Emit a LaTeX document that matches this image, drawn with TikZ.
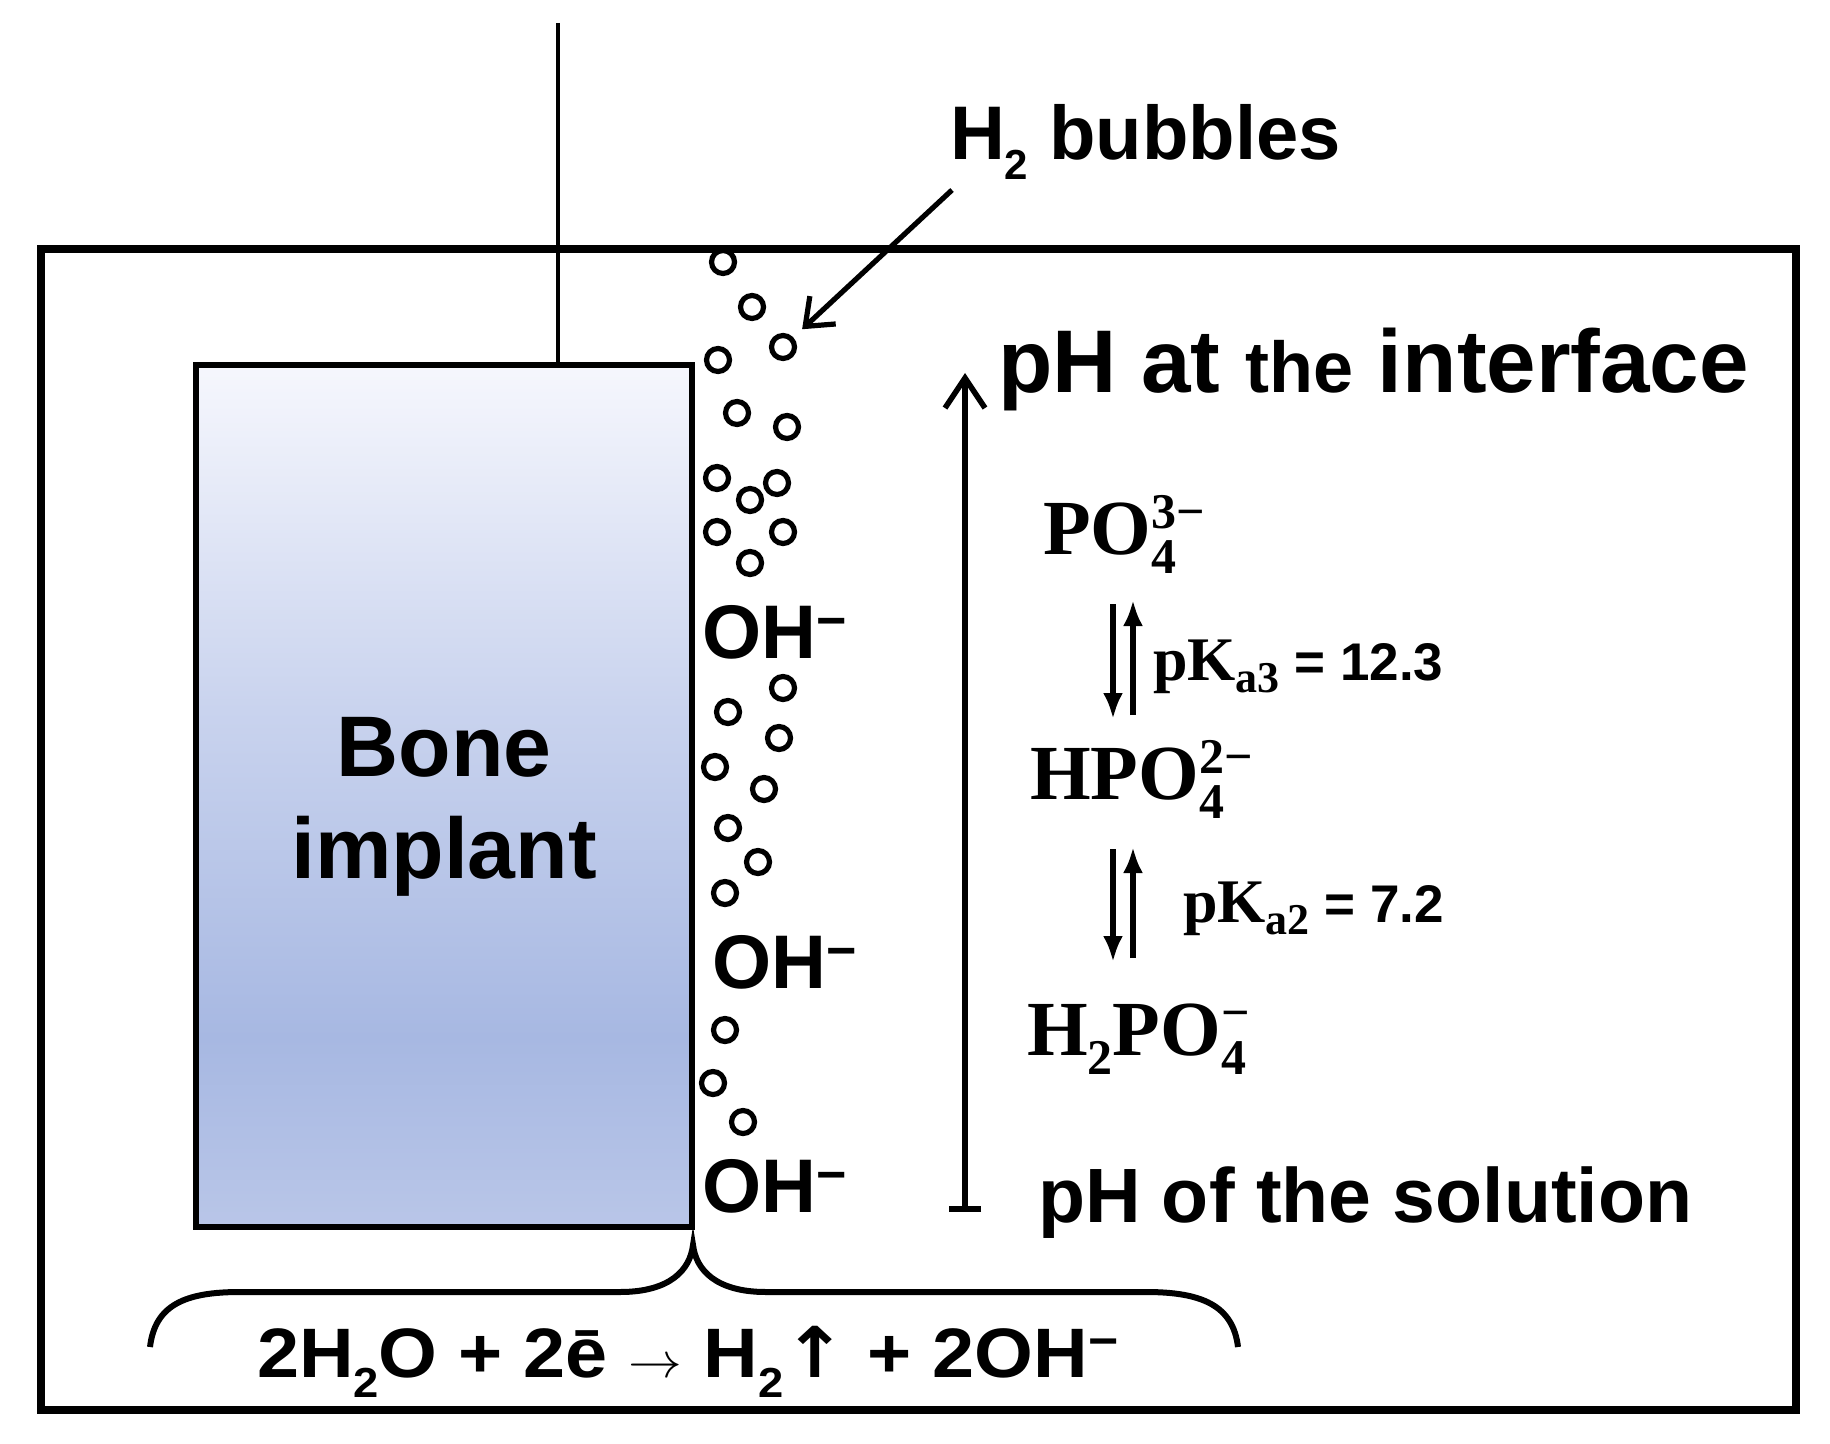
\documentclass[tikz,border=0pt]{standalone}
\usepackage{fontspec}
\setmainfont{Liberation Sans}
\newfontfamily\chemfont{Liberation Serif}
\newfontfamily\symfont{DejaVu Sans}
\usetikzlibrary{arrows.meta}
\newcommand\myfs[1]{\fontsize{#1}{#1}\selectfont}
\newcommand\chemion[3]{#1\rlap{\raisebox{13pt}{\myfs{25}#3}}\raisebox{-9.5pt}{\myfs{25}#2}}
\definecolor{implTop}{HTML}{F6F7FD}
\definecolor{implMid}{HTML}{C9D3EE}
\definecolor{implBlue}{HTML}{A7B8E2}
\definecolor{implBot}{HTML}{B9C6E8}
\pgfdeclareverticalshading{implantshade}{100bp}{color(0bp)=(implBot); color(25bp)=(implBot); color(36bp)=(implBlue); color(55bp)=(implMid); color(75bp)=(implTop); color(100bp)=(implTop)}
\begin{document}
\begin{tikzpicture}[x=0.5pt,y=-0.5pt,
  lbl/.style={anchor=base west, inner sep=0pt, outer sep=0pt},
  bubble/.style={circle, draw, line width=2.6pt, inner sep=0pt, minimum size=11.5pt},
  eqarr/.style={line width=2.6pt, -{Latex[length=13pt,width=10pt]}},
  barbarrow/.style={line width=2.6pt, -{Straight Barb[length=12pt,width=19pt]}},
  chem/.style={lbl, font=\chemfont\bfseries\myfs{39}},
  ohlbl/.style={lbl, font=\bfseries\myfs{38}},
]
\useasboundingbox (0,0) rectangle (1830,1444);
\fill[white] (0,0) rectangle (1830,1444);

% container
\draw[line width=3.8pt] (41,249) rectangle (1796,1410);

% implant
\node[draw, line width=3.2pt, shading=implantshade, minimum width=248pt, minimum height=431pt,
      anchor=north west, inner sep=0pt, outer sep=0pt] (implant) at (196,365) {};
\node[anchor=base, inner sep=0pt, font=\bfseries\myfs{43}] (bone) at (444,776) {Bone};
\node[anchor=base, inner sep=0pt, font=\bfseries\myfs{43}] (implanttxt) at (444,878) {implant};

% wire
\coordinate (wiretop) at (558,23);
\draw[line width=2.4pt] (wiretop) -- (wiretop |- implant.north);

% bubbles
\foreach \i/\x/\y in {1/723/262, 2/752/307, 3/783/347, 4/718/360, 5/737/413, 6/787/427,
  7/717/478, 8/750/500, 9/777/483, 10/717/532, 11/783/532, 12/750/563,
  13/783/688, 14/728/712, 15/779/738, 16/715/767, 17/764/789, 18/728/828,
  19/758/862, 20/725/893, 21/725/1030, 22/713/1083, 23/743/1122}
  \node[bubble] (b\i) at (\x,\y) {};

% OH- labels
\node[ohlbl] (oh1) at (702,658) {OH\raisebox{10pt}{\myfs{26}−}};
\node[ohlbl] (oh2) at (712,988) {OH\raisebox{10pt}{\myfs{26}−}};
\node[ohlbl] (oh3) at (702,1212) {OH\raisebox{10pt}{\myfs{26}−}};

% H2 bubbles
\node[lbl, font=\bfseries\myfs{38}] (h2txt) at (950,160) {H\raisebox{-10pt}{\myfs{21}2} bubbles};
\coordinate (h2tail) at (952,190);
\draw[barbarrow, shorten >=6pt] (h2tail) -- (b3);

% pH scale
\coordinate (phlow) at (965,1212);
\coordinate (phhigh) at (965,373);
\draw[line width=2.8pt, {Bar[width=16pt]}-{Straight Barb[length=15pt,width=20pt]}] (phlow) -- (phhigh);
\node[lbl, font=\bfseries\myfs{44.5}] (phint) at (998,393) {pH at {\myfs{36}the} interface};
\node[lbl, font=\bfseries\myfs{38.5}] (phsol) at (1038,1222) {pH of the solution};

% phosphate species
\node[chem] (po4) at (1043,554) {\chemion{PO}{4}{3−}};
\node[chem] (hpo4) at (1030,799) {\chemion{HPO}{4}{2−}};
\node[chem] (h2po4) at (1027,1055) {\chemion{H\raisebox{-9.5pt}{\myfs{25}2}PO}{4}{−}};

% equilibrium arrows
\coordinate (e1dA) at (1113,604); \coordinate (e1dB) at (1113,719);
\coordinate (e1uA) at (1133,715); \coordinate (e1uB) at (1133,600);
\coordinate (e2dA) at (1113,849); \coordinate (e2dB) at (1113,962);
\coordinate (e2uA) at (1133,958); \coordinate (e2uB) at (1133,847);
\draw[eqarr] (e1dA) -- (e1dB);
\draw[eqarr] (e1uA) -- (e1uB);
\draw[eqarr] (e2dA) -- (e2dB);
\draw[eqarr] (e2uA) -- (e2uB);

\node[lbl] (pka3) at (1153,680) {{\chemfont\bfseries\myfs{31}pK\raisebox{-6pt}{\myfs{22}a3}}{\bfseries\myfs{26.5}\ = 12.3}};
\node[lbl] (pka2) at (1183,922) {{\chemfont\bfseries\myfs{31}pK\raisebox{-6pt}{\myfs{22}a2}}{\bfseries\myfs{26.5}\ = 7.2}};

% brace
\coordinate (brL) at (150,1347);
\coordinate (brTip) at (693,1245);
\coordinate (brR) at (1238,1347);
\draw[line width=3pt] (brL) .. controls (155,1305) and (185,1292) .. (240,1292) -- (620,1292)
  .. controls (670,1292) and (690,1270) .. (brTip)
  .. controls (696,1270) and (716,1292) .. (766,1292) -- (1146,1292)
  .. controls (1201,1292) and (1233,1305) .. (brR);

% equation
\node[lbl, font=\bfseries\myfs{35}] (eqn) at (257,1377)
  {\scalebox{1.08}[1]{2H\raisebox{-10pt}{\myfs{21}2}O + 2ē $\rightarrow$ H\raisebox{-10pt}{\myfs{21}2}{\symfont\bfseries ↑} + 2OH\raisebox{10pt}{\myfs{24}−}}};
\end{tikzpicture}
\end{document}
